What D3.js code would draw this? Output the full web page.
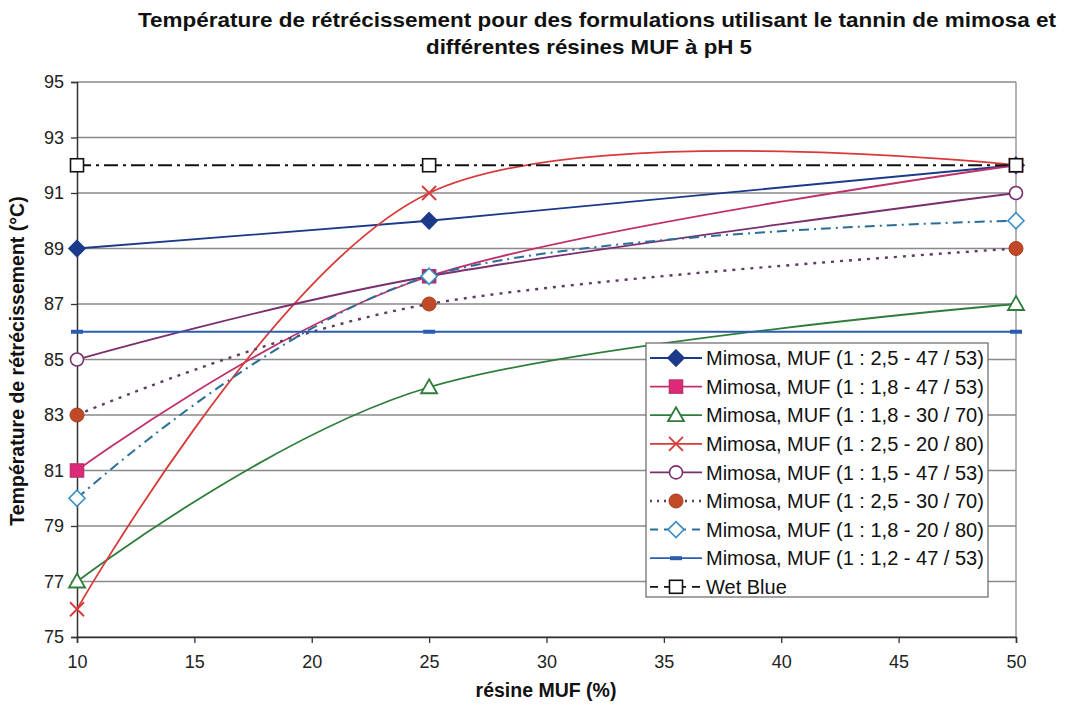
<!DOCTYPE html>
<html><head><meta charset="utf-8">
<script src="https://cdn.jsdelivr.net/npm/d3@7"></script>
<style>body{margin:0;background:#fff}svg{display:block}</style>
</head><body>
<script>
const xValues = [10, 25, 50];
const xTicks = [10, 15, 20, 25, 30, 35, 40, 45, 50];
const yTicks = [75, 77, 79, 81, 83, 85, 87, 89, 91, 93, 95];
const seriesNames = [
  "Mimosa, MUF (1 : 2,5 - 47 / 53)",
  "Mimosa, MUF (1 : 1,8 - 47 / 53)",
  "Mimosa, MUF (1 : 1,8 - 30 / 70)",
  "Mimosa, MUF (1 : 2,5 - 20 / 80)",
  "Mimosa, MUF (1 : 1,5 - 47 / 53)",
  "Mimosa, MUF (1 : 2,5 - 30 / 70)",
  "Mimosa, MUF (1 : 1,8 - 20 / 80)",
  "Mimosa, MUF (1 : 1,2 - 47 / 53)",
  "Wet Blue"
];
const s1 = [89, 90, 92];
const s2 = [81, 88, 92];
const s3 = [77, 84, 87];
const s4 = [76, 91, 92];
const s5 = [85, 88, 91];
const s6 = [83, 87, 89];
const s7 = [80, 88, 90];
const s8 = [86, 86, 86];
const wetBlue = [92, 92, 92];
const title1 = "Température de rétrécissement pour des formulations utilisant le tannin de mimosa et";
const title2 = "différentes résines MUF à pH 5";
const xTitle = "résine MUF (%)";
const yTitle = "Température de rétrécissement (°C)";

const styles = [
  {color:"#1c3a8a", dash:null, marker:"diamond", fill:"#1c3a8a", smooth:false, w:1.8},
  {color:"#c0306a", dash:null, marker:"square", fill:"#e0287a", smooth:true, w:1.8},
  {color:"#2e7d3a", dash:null, marker:"triangle", fill:"#fff", smooth:true, w:1.8},
  {color:"#d83a3a", dash:null, marker:"x", fill:"none", smooth:true, w:1.8},
  {color:"#7a2e6e", dash:null, marker:"circle", fill:"#fff", smooth:true, w:1.8},
  {color:"#5a3e5e", dash:"3,6", marker:"dot", fill:"#c04a28", mcolor:"#c04a28", smooth:true, w:2.4},
  {color:"#2a6e98", dash:"10,5,2,5", marker:"diamond", fill:"#fff", mcolor:"#3a8ec8", smooth:true, w:2},
  {color:"#2a5cb0", dash:null, marker:"dash", fill:"#2a5cb0", smooth:false, w:1.8},
  {color:"#111", dash:"14,5,3,5", marker:"square", fill:"#fff", smooth:false, w:1.8}
];
const allData = [s1, s2, s3, s4, s5, s6, s7, s8, wetBlue];

const W = 1074, H = 713;
const m = {left: 77, right: 1074-1016, top: 82, bottom: 713-637};
const svg = d3.select("body").append("svg").attr("width", W).attr("height", H);
const x = d3.scaleLinear().domain([10, 50]).range([m.left, W - m.right]);
const y = d3.scaleLinear().domain([75, 95]).range([H - m.bottom, m.top]);

// grid
svg.append("g").selectAll("line").data(yTicks).join("line")
  .attr("x1", x(10)).attr("x2", x(50)).attr("y1", d => y(d)).attr("y2", d => y(d))
  .attr("stroke", "#8a8a8a").attr("stroke-width", 1.3);
svg.append("line").attr("x1", x(50)).attr("x2", x(50)).attr("y1", y(95)).attr("y2", y(75))
  .attr("stroke", "#8a8a8a").attr("stroke-width", 1.3);

// axes
const xAxis = svg.append("g").attr("transform", `translate(0,${y(75)})`)
  .call(d3.axisBottom(x).tickValues(xTicks).tickSize(6).tickPadding(12));
const yAxis = svg.append("g").attr("transform", `translate(${x(10)},0)`)
  .call(d3.axisLeft(y).tickValues(yTicks).tickSize(6).tickPadding(7));
[xAxis, yAxis].forEach(a => {
  a.select(".domain").attr("stroke", "#333").attr("stroke-width", 1.5);
  a.selectAll(".tick line").attr("stroke", "#333").attr("stroke-width", 1.3);
  a.selectAll("text").attr("font-family", "Liberation Sans, Arial, sans-serif")
    .attr("font-size", 18).attr("fill", "#222");
});

function drawMarker(g, type, cx, cy, st) {
  const mc = st.mcolor || st.color;
  if (type === "diamond") {
    g.append("path").attr("d", `M${cx},${cy-8}L${cx+8},${cy}L${cx},${cy+8}L${cx-8},${cy}Z`)
      .attr("fill", st.fill).attr("stroke", mc).attr("stroke-width", 1.6);
  } else if (type === "square") {
    g.append("rect").attr("x", cx-6.5).attr("y", cy-6.5).attr("width", 13).attr("height", 13)
      .attr("fill", st.fill).attr("stroke", st.color).attr("stroke-width", 1.6);
  } else if (type === "triangle") {
    g.append("path").attr("d", `M${cx},${cy-8}L${cx+8},${cy+6}L${cx-8},${cy+6}Z`)
      .attr("fill", st.fill).attr("stroke", mc).attr("stroke-width", 1.8);
  } else if (type === "x") {
    g.append("path").attr("d", `M${cx-7},${cy-7}L${cx+7},${cy+7}M${cx-7},${cy+7}L${cx+7},${cy-7}`)
      .attr("stroke", mc).attr("stroke-width", 1.8);
  } else if (type === "circle") {
    g.append("circle").attr("cx", cx).attr("cy", cy).attr("r", 6.5)
      .attr("fill", st.fill).attr("stroke", mc).attr("stroke-width", 1.6);
  } else if (type === "dot") {
    g.append("circle").attr("cx", cx).attr("cy", cy).attr("r", 7)
      .attr("fill", st.fill).attr("stroke", "#a83a20").attr("stroke-width", 1);
  } else if (type === "dash") {
    g.append("rect").attr("x", cx-6).attr("y", cy-2).attr("width", 12).attr("height", 4)
      .attr("fill", st.fill);
  }
}

const plot = svg.append("g");
allData.forEach((vals, i) => {
  const st = styles[i];
  const pts = xValues.map((xv, j) => [xv, vals[j]]);
  const line = d3.line().x(d => x(d[0])).y(d => y(d[1]))
    .curve(st.smooth ? d3.curveCardinal.tension(0) : d3.curveLinear);
  plot.append("path").attr("d", line(pts)).attr("fill", "none")
    .attr("stroke", st.color).attr("stroke-width", st.w)
    .attr("stroke-dasharray", st.dash);
});
allData.forEach((vals, i) => {
  const st = styles[i];
  const g = plot.append("g");
  xValues.forEach((xv, j) => drawMarker(g, st.marker, x(xv), y(vals[j]), st));
});

// legend
const lg = svg.append("g");
lg.append("rect").attr("x", 646).attr("y", 343).attr("width", 342).attr("height", 254)
  .attr("fill", "#fff").attr("stroke", "#666").attr("stroke-width", 1.2);
const legendDash = [null, null, null, null, null, "2,5", "8,6", null, "8,6"];
seriesNames.forEach((name, i) => {
  const st = styles[i];
  const cy = 358 + i * 28.6;
  lg.append("line").attr("x1", 650).attr("x2", 702).attr("y1", cy).attr("y2", cy)
    .attr("stroke", st.color).attr("stroke-width", st.w).attr("stroke-dasharray", legendDash[i]);
  drawMarker(lg, st.marker, 676, cy, st);
  lg.append("text").attr("x", 706).attr("y", cy).attr("dy", "0.36em")
    .attr("font-family", "Liberation Sans, Arial, sans-serif").attr("font-size", 20)
    .attr("fill", "#111").text(name);
});

// titles
const tf = "Liberation Sans, Arial, sans-serif";
svg.append("text").attr("x", 597).attr("y", 27).attr("text-anchor", "middle")
  .attr("textLength", 918).attr("lengthAdjust", "spacingAndGlyphs")
  .attr("font-family", tf).attr("font-weight", "bold").attr("font-size", 21).attr("fill", "#111").text(title1);
svg.append("text").attr("x", 589).attr("y", 54).attr("text-anchor", "middle")
  .attr("textLength", 326).attr("lengthAdjust", "spacingAndGlyphs")
  .attr("font-family", tf).attr("font-weight", "bold").attr("font-size", 21).attr("fill", "#111").text(title2);
svg.append("text").attr("x", 546).attr("y", 697).attr("text-anchor", "middle")
  .attr("font-family", tf).attr("font-weight", "bold").attr("font-size", 19.5).attr("fill", "#111").text(xTitle);
svg.append("text").attr("transform", "translate(24,361) rotate(-90)").attr("text-anchor", "middle")
  .attr("font-family", tf).attr("font-weight", "bold").attr("font-size", 19.5).attr("fill", "#111").text(yTitle);
</script>
</body></html>
